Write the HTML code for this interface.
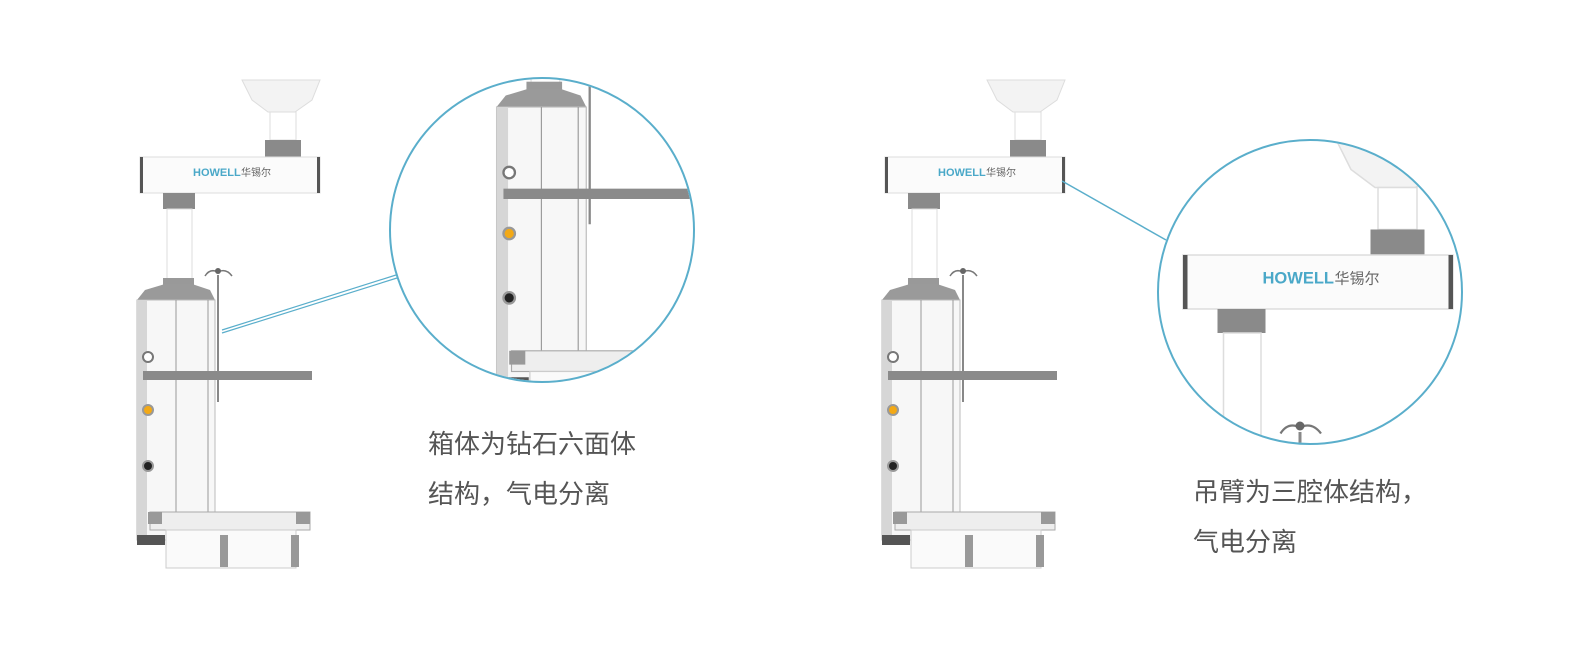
<!DOCTYPE html>
<html><head><meta charset="utf-8"><style>
html,body{margin:0;padding:0;background:#fff;width:1581px;height:648px;overflow:hidden;}
body{position:relative;font-family:"Liberation Sans","Noto Sans CJK SC",sans-serif;}
.t{position:absolute;font-size:26px;color:#555;line-height:50px;font-family:"Liberation Sans","Noto Sans CJK SC",sans-serif;}
</style></head><body>
<svg width="1581" height="648" viewBox="0 0 1581 648" style="position:absolute;left:0;top:0;display:block">
<defs>
<g id="p">
  <polygon points="242,80 320,80 312,100 295,112 268,112 252,100" fill="#f3f3f3" stroke="#ddd"/>
  <rect x="270" y="112" width="26" height="28" fill="#fff" stroke="#ddd"/>
  <rect x="265" y="140" width="36" height="18" fill="#8a8a8a"/>
  <rect x="140" y="157" width="180" height="36" fill="#fbfbfb" stroke="#ddd"/>
  <rect x="140" y="157" width="3" height="36" fill="#555"/>
  <rect x="317" y="157" width="3" height="36" fill="#555"/>
  <text x="193" y="176" font-family="Liberation Sans,sans-serif" font-weight="bold" font-size="11" fill="#4aa8c8">HOWELL</text>
  <text x="241" y="176" font-family="Liberation Sans,Noto Sans CJK SC,sans-serif" font-size="10" fill="#666">华锡尔</text>
  <rect x="163" y="193" width="32" height="16" fill="#8a8a8a"/>
  <rect x="167" y="209" width="25" height="76" fill="#fff" stroke="#ddd"/>
  <rect x="163" y="278" width="31" height="9" fill="#999"/>
  <polygon points="137,300 145,290 165,284 192,284 210,290 215,300" fill="#9a9a9a"/>
  <rect x="137" y="300" width="78" height="240" fill="#f7f7f7" stroke="#bbb"/>
  <rect x="137" y="300" width="10" height="240" fill="#d6d6d6"/>
  <line x1="176" y1="300" x2="176" y2="520" stroke="#999"/>
  <line x1="208" y1="300" x2="208" y2="520" stroke="#999"/>
  <circle cx="148" cy="357" r="5" fill="#fff" stroke="#777" stroke-width="2"/>
  <circle cx="148" cy="410" r="5" fill="#f3a916" stroke="#999" stroke-width="2"/>
  <circle cx="148" cy="466" r="5" fill="#222" stroke="#999" stroke-width="2"/>
  <line x1="218" y1="275" x2="218" y2="402" stroke="#888" stroke-width="2"/>
  <path d="M205,276 Q210,268 218,272 Q226,268 232,276" fill="none" stroke="#777" stroke-width="1.5"/>
  <circle cx="218" cy="271" r="3" fill="#666"/>
  <rect x="143" y="371" width="169" height="9" fill="#8a8a8a"/>
  <rect x="137" y="535" width="28" height="10" fill="#555"/>
  <rect x="150" y="512" width="160" height="18" fill="#eee" stroke="#aaa"/>
  <rect x="166" y="530" width="130" height="38" fill="#fafafa" stroke="#ccc"/>
  <rect x="148" y="512" width="14" height="12" fill="#999"/>
  <rect x="296" y="512" width="14" height="12" fill="#999"/>
  <rect x="220" y="535" width="8" height="32" fill="#999"/>
  <rect x="291" y="535" width="8" height="32" fill="#999"/>
</g>
<clipPath id="c1"><circle cx="542" cy="230" r="151"/></clipPath>
<clipPath id="c2"><circle cx="1310" cy="292" r="151"/></clipPath>
</defs>
<use href="#p"/>
<use href="#p" transform="translate(745,0)"/>
<g clip-path="url(#c1)"><use href="#p" transform="translate(339,-238) scale(1.15)"/></g>
<g clip-path="url(#c2)"><use href="#p" transform="translate(973,19.5) scale(1.5)"/></g>
<circle cx="542" cy="230" r="152" fill="none" stroke="#5aaecb" stroke-width="2"/>
<circle cx="1310" cy="292" r="152" fill="none" stroke="#5aaecb" stroke-width="2"/>
<line x1="222" y1="330" x2="396" y2="275" stroke="#5aaecb" stroke-width="1.2"/>
<line x1="222" y1="333" x2="397" y2="278" stroke="#5aaecb" stroke-width="1.2"/>
<line x1="1062" y1="181" x2="1166" y2="240" stroke="#5aaecb" stroke-width="1.5"/>
</svg>
<div class="t" style="left:428px;top:419px">箱体为钻石六面体<br>结构，气电分离</div>
<div class="t" style="left:1193px;top:467px">吊臂为三腔体结构，<br>气电分离</div>
</body></html>
